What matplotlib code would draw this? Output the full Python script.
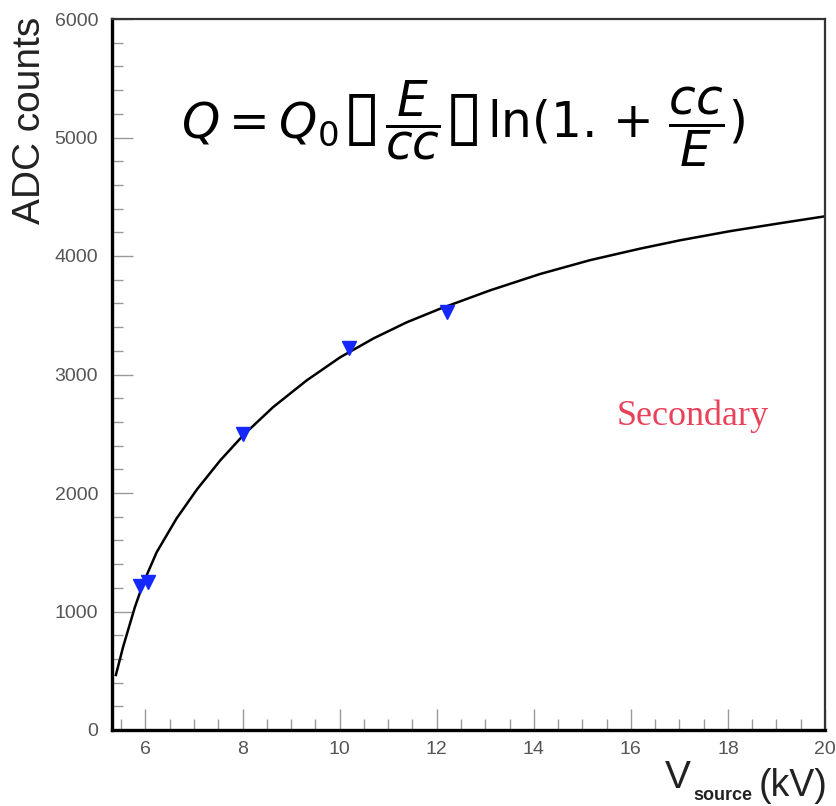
import numpy as np
import matplotlib
matplotlib.use("Agg")
import matplotlib.pyplot as plt
from matplotlib.ticker import MultipleLocator
from matplotlib.offsetbox import TextArea, HPacker, AnnotationBbox

# 测量点 (V_source kV, ADC counts)
v_points = [5.89, 6.05, 8.0, 10.2, 12.21]
adc_points = [1215, 1245, 2495, 3225, 3525]

# 拟合曲线 (从图中读取的点)
v_curve = [5.39, 5.54, 5.78, 5.96, 6.23, 6.64, 7.06, 7.54, 8.02, 8.63, 9.32,
           10.01, 10.70, 11.38, 12.07, 13.10, 14.13, 15.16, 16.19, 17.02,
           18.05, 19.08, 20.0]
adc_curve = [464, 703, 1035, 1245, 1500, 1785, 2030, 2275, 2490, 2725, 2950,
             3145, 3305, 3440, 3555, 3710, 3848, 3965, 4062, 4133,
             4210, 4277, 4335]

x_ticks = [6, 8, 10, 12, 14, 16, 18, 20]
y_ticks = [0, 1000, 2000, 3000, 4000, 5000, 6000]

plt.rcParams["mathtext.fontset"] = "dejavusans"

fig = plt.figure(figsize=(8.37, 8.06), dpi=100)
ax = fig.add_axes([112 / 837, 1 - 730 / 806, 713 / 837, 711 / 806])

ax.plot(v_curve, adc_curve, color="black", lw=1.8, zorder=2,
        solid_joinstyle="round")
ax.plot(v_points, adc_points, linestyle="none", marker="v", ms=10,
        color="#1428ff", markeredgecolor="#1428ff", zorder=3)

ax.set_xlim(5.31, 20)
ax.set_ylim(0, 6000)
ax.set_xticks(x_ticks)
ax.set_yticks(y_ticks)
ax.xaxis.set_minor_locator(MultipleLocator(0.5))
ax.yaxis.set_minor_locator(MultipleLocator(200))

ax.tick_params(which="both", direction="in", color="#999999", width=1,
               labelcolor="#555555", labelsize=14, labelfontfamily="Liberation Sans")
ax.tick_params(which="major", length=15)
ax.tick_params(which="minor", length=8)
ax.tick_params(axis="y", pad=10)
ax.tick_params(axis="x", pad=8)

for side in ["left", "bottom"]:
    ax.spines[side].set_linewidth(2.4)
for side in ["top", "right"]:
    ax.spines[side].set_linewidth(1.6)
    ax.spines[side].set_color("#333333")

# y 轴标题
fig.text(30 / 837, 1 - 120 / 806, "ADC counts", rotation=90, fontsize=28,
         family="Liberation Sans", color="#222222", ha="center", va="center")

# x 轴标题: V_source(kV)
t_v = fig.text(665 / 837, 1 - 788 / 806, "V", fontsize=28,
               family="Liberation Sans", color="#222222", ha="left", va="baseline")
ax.annotate("source", xy=(1, 0), xycoords=t_v, xytext=(2, -3),
            textcoords="offset points", fontsize=13, fontweight="bold",
            family="Liberation Sans", color="#222222", ha="left", va="baseline")
ax.annotate("(kV)", xy=(1, 0), xycoords=t_v, xytext=(49, 0),
            textcoords="offset points", fontsize=27,
            family="Liberation Sans", color="#222222", ha="left", va="baseline")

# 公式 (方框是原图中缺字的占位符)
fs = 35
box_props = dict(fontsize=50, color="black", family="DejaVu Sans")
math_props = dict(fontsize=fs, color="black")
parts = [
    TextArea("$Q = Q_0$", textprops=math_props),
    TextArea("\u25af", textprops=box_props),
    TextArea("$\\dfrac{E}{cc}$", textprops=math_props),
    TextArea("\u25af", textprops=box_props),
    TextArea("ln(1. $+\\ \\dfrac{cc}{E}$)", textprops=math_props),
]
formula = HPacker(children=parts, align="baseline", pad=0, sep=3)
ab = AnnotationBbox(formula, (463 / 837, 1 - 124 / 806), xycoords="figure fraction",
                    box_alignment=(0.5, 0.5), frameon=False)
fig.add_artist(ab)

fig.text(617 / 837, 1 - 425 / 806, "Secondary", fontsize=26,
         family="Liberation Serif", color="#e8415a", ha="left", va="baseline")

fig.savefig("out.png", dpi=100)
